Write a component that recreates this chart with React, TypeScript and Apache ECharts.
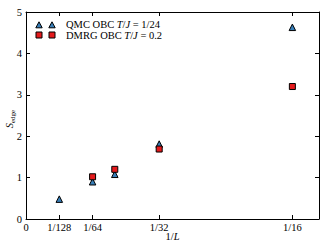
import React, { useEffect, useRef } from "react";
import * as echarts from "echarts";

const qmcName = "QMC OBC T/J = 1/24";
const dmrgName = "DMRG OBC T/J = 0.2";
const qmcX = [1 / 128, 1 / 64, 1 / 48, 1 / 32, 1 / 16];
const qmcY = [0.48, 0.9, 1.08, 1.81, 4.63];
const dmrgX = [1 / 64, 1 / 48, 1 / 32, 1 / 16];
const dmrgY = [1.02, 1.2, 1.69, 3.2];
const xTickValues = [0, 1 / 128, 1 / 64, 1 / 32, 1 / 16];
const xTickLabels = ["0", "1/128", "1/64", "1/32", "1/16"];
const xMax = 1.1 / 16;
const yMin = 0;
const yMax = 5;

const FONT = "Liberation Serif";
const BLUE = "#377eb8";
const RED = "#e41a1c";

export default function App() {
  const ref = useRef<HTMLDivElement>(null);
  useEffect(() => {
    const chart = echarts.init(ref.current!, null, { renderer: "svg" });
    const fmtX = (v: number) => {
      const i = xTickValues.findIndex((t) => Math.abs(t - v) < 1e-9);
      return i >= 0 ? xTickLabels[i] : "";
    };
    const baseX = {
      type: "value" as const,
      min: 0,
      max: xMax,
      splitLine: { show: false },
      axisLine: { show: true, onZero: false, lineStyle: { color: "#000", width: 1 } },
    };
    const baseY = {
      type: "value" as const,
      min: yMin,
      max: yMax,
      interval: 1,
      splitLine: { show: false },
      axisLine: { show: true, onZero: false, lineStyle: { color: "#000", width: 1 } },
      axisTick: { show: true, inside: true, length: 4, lineStyle: { color: "#000" } },
    };
    const legendRow = (y: number, ty: number, symbol: "tri" | "sq", color: string, label: any) => {
      const els: any[] = [];
      [39, 52].forEach((cx) => {
        if (symbol === "tri") {
          els.push({
            type: "polygon",
            shape: { points: [[cx, y - 3.2], [cx + 3.2, y + 2.8], [cx - 3.2, y + 2.8]] },
            style: { fill: color, stroke: "#000", lineWidth: 1 },
          });
        } else {
          els.push({
            type: "rect",
            shape: { x: cx - 3, y: y - 3, width: 6, height: 6 },
            style: { fill: color, stroke: "#000", lineWidth: 1 },
          });
        }
      });
      els.push({
        type: "text",
        x: 66,
        y: ty,
        style: {
          text: label,
          fontFamily: FONT,
          fontSize: 10.5,
          fill: "#000",
          verticalAlign: "middle",
          rich: {
            i: { fontFamily: FONT, fontSize: 10.5, fontStyle: "italic", fill: "#000" },
          },
        },
      });
      return els;
    };
    const mathLabel = (name: string) =>
      name.replace("T/J", "{i|T}/{i|J}");
    chart.setOption({
      animation: false,
      textStyle: { fontFamily: FONT },
      grid: { left: 26, right: 13, top: 12, bottom: 30, containLabel: false, outerBoundsMode: "none" },
      xAxis: [
        {
          ...baseX,
          position: "bottom",
          name: "{a|1/}{i|L}",
          nameLocation: "middle",
          nameGap: 12,
          nameMoveOverlap: false,
          nameTextStyle: {
            rich: {
              a: { fontFamily: FONT, fontSize: 10.5, color: "#000" },
              i: { fontFamily: FONT, fontSize: 10.5, fontStyle: "italic", color: "#000" },
            },
          },
          axisTick: {
            show: true,
            inside: true,
            length: 4,
            customValues: xTickValues,
            lineStyle: { color: "#000" },
          },
          axisLabel: {
            customValues: xTickValues,
            formatter: fmtX,
            fontFamily: FONT,
            fontSize: 10.5,
            color: "#000",
            margin: 3,
            showMinLabel: true,
            showMaxLabel: true,
          },
        },
        {
          ...baseX,
          position: "top",
          axisTick: {
            show: true,
            inside: true,
            length: 4,
            customValues: xTickValues,
            lineStyle: { color: "#000" },
          },
          axisLabel: { show: false },
        },
      ],
      yAxis: [
        {
          ...baseY,
          position: "left",
          axisLabel: { fontFamily: FONT, fontSize: 10.5, color: "#000", margin: 4, showMinLabel: true },
        },
        {
          ...baseY,
          position: "right",
          axisLabel: { show: false },
        },
      ],
      series: [
        {
          name: qmcName,
          type: "scatter",
          xAxisIndex: 0,
          yAxisIndex: 0,
          symbol: "triangle",
          symbolSize: 6.5,
          itemStyle: { color: BLUE, borderColor: "#000", borderWidth: 1, opacity: 1 },
          data: qmcX.map((x, i) => [x, qmcY[i]]),
          z: 2,
        },
        {
          name: dmrgName,
          type: "scatter",
          xAxisIndex: 0,
          yAxisIndex: 0,
          symbol: "rect",
          symbolSize: 6,
          itemStyle: { color: RED, borderColor: "#000", borderWidth: 1, opacity: 1 },
          data: dmrgX.map((x, i) => [x, dmrgY[i]]),
          z: 3,
        },
      ],
      graphic: [
        ...legendRow(25, 24.2, "tri", BLUE, mathLabel(qmcName)),
        ...legendRow(35, 35.8, "sq", RED, mathLabel(dmrgName)),
        {
          type: "text",
          x: 10,
          y: 119,
          rotation: Math.PI / 2,
          style: {
            text: "{s|S}{sub|edge}",
            align: "center",
            verticalAlign: "middle",
            rich: {
              s: { fontFamily: FONT, fontSize: 10.5, fontStyle: "italic", fill: "#000", verticalAlign: "top", lineHeight: 12 },
              sub: { fontFamily: FONT, fontSize: 7, fill: "#000", verticalAlign: "bottom", lineHeight: 12 },
            },
          },
        },
      ],
    });
    return () => chart.dispose();
  }, []);
  return <div ref={ref} style={{ width: 332, height: 249, position: "absolute", left: 0, top: 0 }} />;
}
